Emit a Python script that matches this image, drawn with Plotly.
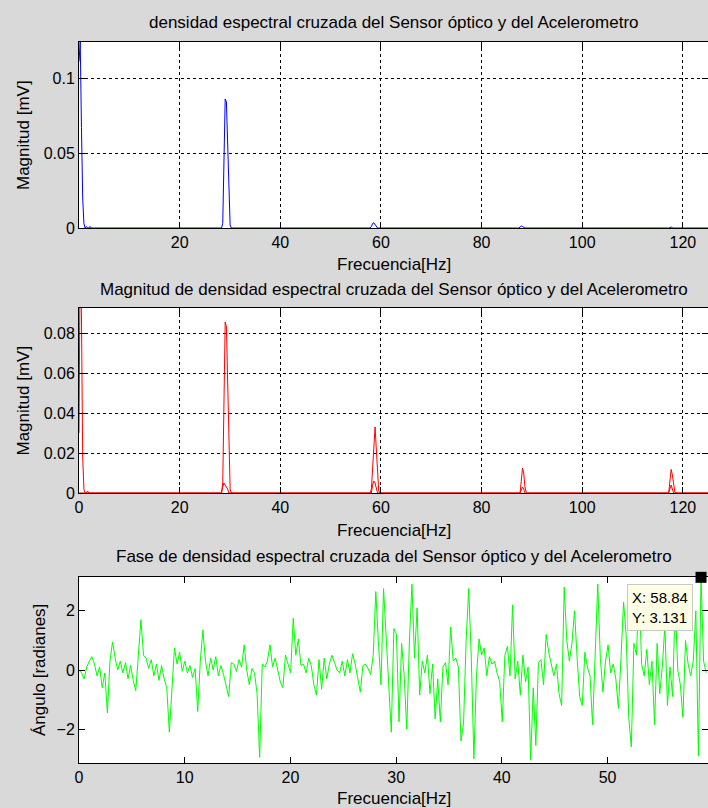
import numpy as np
import plotly.graph_objects as go

FS = 250.0
NFFT = 1024
DF = FS / NFFT

# ---- Panel 1: densidad espectral cruzada (blue), sparse FFT bins ----
blue_bins = [0, 1, 2, 3, 4, 5, 6, 7, 8, 9, 10, 11,
             116, 117, 118, 119, 120, 121, 122, 123, 124,
             237, 238, 239, 240, 241, 242, 243,
             358, 359, 360, 361, 362, 363,
             480, 481, 482, 483, 484, 512]
blue_mag = [0.111, 0.124, 0.067, 0.020, 0.003, 0.0, 0.001, 0.0, 0.0, 0.001, 0.0, 0.0,
            0.0, 0.003, 0.062, 0.086, 0.084, 0.055, 0.019, 0.002, 0.0,
            0.0, 0.001, 0.003, 0.0035, 0.002, 0.0005, 0.0,
            0.0, 0.0006, 0.0013, 0.001, 0.0003, 0.0,
            0.0, 0.0003, 0.0006, 0.0003, 0.0, 0.0]

# ---- Panel 2: magnitud (red) ----
red_bins = [0, 1, 2, 3, 4, 5, 6, 7, 8,
            116, 117, 118, 119, 120, 121, 122, 123, 124,
            237, 238, 239, 240, 241, 242, 243, 244, 245,
            359, 360, 361, 362, 363, 364, 365,
            480, 481, 482, 483, 484, 485, 486, 512]
red_mag = [0.030, 0.124, 0.088, 0.018, 0.002, 0.0, 0.0, 0.001, 0.0,
           0.0, 0.005, 0.061, 0.0855, 0.083, 0.056, 0.017, 0.002, 0.0,
           0.0, 0.002, 0.012, 0.026, 0.033, 0.022, 0.007, 0.001, 0.0,
           0.0, 0.006, 0.0125, 0.010, 0.003, 0.0005, 0.0,
           0.0, 0.005, 0.0118, 0.009, 0.003, 0.0005, 0.0, 0.0]
red_inner_bins = [0, 116, 117, 118, 119, 120, 121, 122,
                  238, 239, 240, 241, 242, 243,
                  359, 360, 361, 362, 363,
                  480, 481, 482, 483, 484, 512]
red_inner_mag = [0.0, 0.0, 0.003, 0.005, 0.004, 0.003, 0.002, 0.0,
                 0.0, 0.004, 0.006, 0.005, 0.003, 0.0,
                 0.0, 0.002, 0.003, 0.002, 0.0,
                 0.0, 0.002, 0.004, 0.002, 0.0, 0.0]

# ---- Panel 3: fase (green), one value per FFT bin ----
phase = [
    0.0, -0.1, -0.3, 0.1, 0.3, 0.45, 0.2, -0.2, 0.1, -0.6,
    -0.1, -1.45, 0.3, 0.95, 0.4, 0.0, 0.3, -0.1, 0.25, -0.3,
    0.15, -0.35, -0.7, 0.6, 1.7, 0.5, 0.4, 0.05, 0.35, -0.2,
    0.2, -0.35, 0.15, -0.3, -0.6, -2.1, -0.5, 0.75, 0.2, 0.6,
    -0.05,
    0.3, -0.1, 0.15, -0.25, 0.05, -1.4, 0.3, 1.35, 0.3, -0.2,
    0.4, 0.0, 0.45, -0.2, 0.15, -0.15, -0.5, -0.9, 0.25, 0.2,
    -0.05, 0.35, 0.1, 0.85, 0.0, -0.5, 0.05, -0.1, -0.8, -2.95,
    0.2, 0.1, 0.3, 0.85, 0.1, 0.4, 0.0, -0.4, -0.6, 0.5,
    0.2,
    -0.1, 1.75, 0.5, 1.05, 0.15, 0.2, -0.1, 0.4, 0.15, -0.5,
    -0.85, 0.35, -0.65, 0.4, -0.3, 0.2, 0.5, 0.25, 0.0, -0.1,
    0.3, -0.2, 0.35, -0.1, 0.55, 0.2, -0.3, -0.75, 0.15, 0.2,
    0.05, -0.15, 0.5, 2.65, 0.95, -0.5, 2.75, 1.2, -0.75, -2.1,
    1.4,
    1.2, -1.75, 0.9, -0.2, -2.0, 0.95, 2.9, 0.4, 2.1, -0.85,
    0.3, -0.1, 0.5, -0.8, 0.2, -1.65, -0.3, -1.75, 0.1, 0.25,
    -0.5, 1.45, 0.3, 0.4, 0.1, -2.4, -1.8, 1.0, 2.75, 0.4,
    -3.0, -0.2, 1.05, 0.5, 0.75, -0.2, 0.45, 0.2, 0.3, -0.1,
    -0.4, -1.75, 0.5,
    0.8, -0.2, 2.2, -0.3, 0.3, -0.85, 0.5, -0.4, 0.1, -3.05,
    -0.6, -2.55, 0.25, 0.35, -0.5, 1.2, 0.6, 0.2, -0.2, 0.2,
    -0.8, -1.2, 2.8, 1.0, 0.3, 0.9, 2.0, 0.4, -0.9, -1.2,
    0.6, 0.1, -0.2, -1.85, 0.5, 2.9, 0.4, -0.75, 0.3, 0.85,
    -0.1,
    0.2, -0.3, -1.3, 0.4, 2.3, 1.2, -1.6, -2.6, 0.9, 0.5,
    2.9, 0.2, -0.2, 0.7, -0.5, 0.3, -1.85, 0.9, -0.8, 0.1,
    1.5, -1.2, 0.1, -0.9, 2.3, 0.0, -0.5, -1.6, 1.0, 0.2,
    -0.2, 0.3, 2.0, -2.9, 3.131, 0.3, -0.1,
]

datatip_x = 58.84
datatip_y = 3.131

titles = [
    "densidad espectral cruzada del Sensor óptico y del Acelerometro",
    "Magnitud de densidad espectral cruzada del Sensor óptico y del Acelerometro",
    "Fase de densidad espectral cruzada del Sensor óptico y del Acelerometro",
]
xlabel = "Frecuencia[Hz]"
ylabels = ["Magnitud [mV]", "Magnitud [mV]", "Ángulo [radianes]"]

# ---------------- figure ----------------
W, H = 708, 808
BG = "#d9d9d9"
FONT = "Liberation Sans, Arial, sans-serif"
FS_TICK = 16
FS_LBL = 17


def px(x):
    return x / W


def py(y):
    return 1 - y / H


blue_f = np.array(blue_bins) * DF
red_f = np.array(red_bins) * DF
red_inner_f = np.array(red_inner_bins) * DF
phase_f = np.arange(len(phase)) * DF

fig = go.Figure()
fig.add_trace(go.Scatter(x=blue_f, y=blue_mag, mode="lines",
                         line=dict(color="#0000ff", width=1), xaxis="x", yaxis="y"))
fig.add_trace(go.Scatter(x=red_inner_f, y=red_inner_mag, mode="lines",
                         line=dict(color="#ff0000", width=1), xaxis="x2", yaxis="y2"))
fig.add_trace(go.Scatter(x=red_f, y=red_mag, mode="lines",
                         line=dict(color="#ff0000", width=1), xaxis="x2", yaxis="y2"))
fig.add_trace(go.Scatter(x=phase_f, y=phase, mode="lines",
                         line=dict(color="#00ff00", width=1), xaxis="x3", yaxis="y3"))
fig.add_trace(go.Scatter(x=[datatip_x], y=[datatip_y], mode="markers",
                         marker=dict(symbol="square", size=11, color="black",
                                     line=dict(width=0)),
                         cliponaxis=False, xaxis="x3", yaxis="y3"))

common = dict(showline=True, linecolor="black", linewidth=1, mirror="ticks",
              ticks="inside", ticklen=6, tickcolor="black", zeroline=False,
              automargin=False,
              tickfont=dict(family=FONT, size=FS_TICK, color="black"))
grid = dict(showgrid=True, gridcolor="black", gridwidth=1, griddash="3px,3px")

xdom = [px(79), 1.0]
panels = [(42, 228), (308, 493), (577, 763)]

fig.update_layout(
    width=W, height=H,
    margin=dict(l=0, r=0, t=0, b=0, autoexpand=False),
    paper_bgcolor=BG, plot_bgcolor="white",
    showlegend=False,
    xaxis=dict(domain=xdom, range=[0, 125], anchor="y",
               tickvals=[20, 40, 60, 80, 100, 120], **common, **grid),
    yaxis=dict(domain=[py(panels[0][1]), py(panels[0][0])], range=[0, 0.124], anchor="x",
               tickvals=[0, 0.05, 0.1], ticktext=["0", "0.05", "0.1"], **common, **grid),
    xaxis2=dict(domain=xdom, range=[0, 125], anchor="y2",
                tickvals=[0, 20, 40, 60, 80, 100, 120], **common, **grid),
    yaxis2=dict(domain=[py(panels[1][1]), py(panels[1][0])], range=[0, 0.0925], anchor="x2",
                tickvals=[0, 0.02, 0.04, 0.06, 0.08],
                ticktext=["0", "0.02", "0.04", "0.06", "0.08"], **common, **grid),
    xaxis3=dict(domain=xdom, range=[0, 59.5], anchor="y3",
                tickvals=[0, 10, 20, 30, 40, 50], showgrid=False, **common),
    yaxis3=dict(domain=[py(panels[2][1]), py(panels[2][0])], range=[-np.pi, np.pi], anchor="x3",
                tickvals=[-2, 0, 2], showgrid=False, **common),
)

ann = []
title_y = [22, 289, 556]
xlabel_y = [264, 530, 798]
ylabel_x = [23, 23, 39]
for i in range(3):
    top, bot = panels[i]
    ann.append(dict(text=titles[i], x=px((79 + 708) / 2), y=py(title_y[i]), xref="paper", yref="paper",
                    xanchor="center", yanchor="middle", showarrow=False,
                    font=dict(family=FONT, size=FS_LBL, color="black")))
    ann.append(dict(text=xlabel, x=px((79 + 708) / 2), y=py(xlabel_y[i]), xref="paper", yref="paper",
                    xanchor="center", yanchor="middle", showarrow=False,
                    font=dict(family=FONT, size=FS_LBL, color="black")))
    ann.append(dict(text=ylabels[i], x=px(ylabel_x[i]), y=py((top + bot) / 2), xref="paper", yref="paper",
                    xanchor="center", yanchor="middle", showarrow=False, textangle=-90,
                    font=dict(family=FONT, size=FS_LBL, color="black")))

ann.append(dict(text="X: 58.84<br>Y: 3.131", x=px(660), y=py(607), xref="paper", yref="paper",
                xanchor="center", yanchor="middle", showarrow=False, align="left",
                bgcolor="#ffffe6", bordercolor="#c8c8c8", borderwidth=1, borderpad=4,
                font=dict(family=FONT, size=15, color="black")))
fig.update_layout(annotations=ann)

page_js = ("document.body.style.margin='0';"
           "document.body.style.overflow='hidden';"
           "document.body.style.background='" + BG + "';")
fig.write_html("out.html", post_script=page_js, config={"displayModeBar": False})
